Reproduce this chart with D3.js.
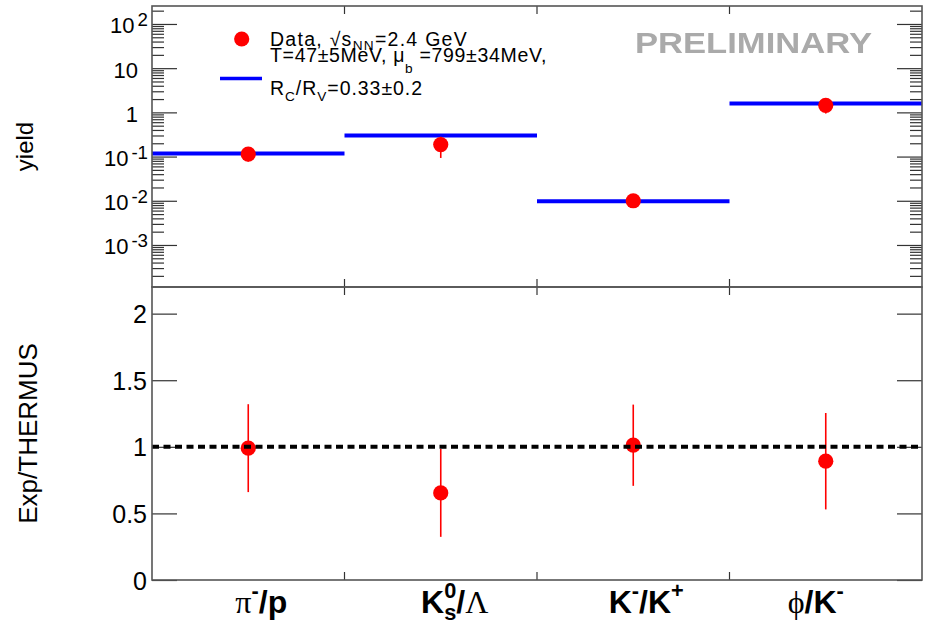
<!DOCTYPE html>
<html><head><meta charset="utf-8">
<script src="https://cdn.jsdelivr.net/npm/d3@7"></script>
<style>body{margin:0;background:#fff}svg text{white-space:pre}</style>
</head><body>
<svg id="c" width="926" height="625"></svg>
<script>
// Particle ratios (ROOT-style markup: #greek, ^{sup}, _{sub})
const categories = ["#pi^{-}/p", "K^{0}_{s}/#Lambda", "K^{-}/K^{+}", "#phi/K^{-}"];
// Measured yield ratios and uncertainties
const dataYield = [0.114, 0.187, 0.0100, 1.44];
const dataYieldErr = [0.037, 0.094, 0.003, 0.50];
// THERMUS fit
const thermusYield = [0.117, 0.30, 0.0098, 1.58];
// Experiment / THERMUS
const ratio = [0.99, 0.654, 1.012, 0.892];
const ratioErr = [0.33, 0.33, 0.305, 0.362];
// Axis ticks
const yieldTicks = [1e-3, 1e-2, 1e-1, 1, 10, 100];
const yieldTickLabels = ["10^{-3}", "10^{-2}", "10^{-1}", "1", "10", "10^{2}"];
const ratioTicks = [0, 0.5, 1, 1.5, 2];
const ratioTickLabels = ["0", "0.5", "1", "1.5", "2"];
const legendData = "Data, √s_{NN}=2.4 GeV";
const legendModel = ["T=47±5MeV, #mu_{b} =799±34MeV,", "R_{C}/R_{V}=0.33±0.2"];

const greek = {pi: "π", Lambda: "Λ", phi: "ϕ", mu: "μ"};
const SANS = "'Liberation Sans', Arial, Helvetica, sans-serif";
const SERIF = "'Liberation Serif', 'DejaVu Serif', serif";

function parseRich(str) {
  const re = /#([A-Za-z]+)|\^\{([^}]*)\}|_\{([^}]*)\}|([^#^_]+)/g;
  const out = []; let m;
  while ((m = re.exec(str))) {
    if (m[1]) out.push({t: greek[m[1]], greek: true, mode: "n"});
    else if (m[2] !== undefined) out.push({t: m[2], mode: "sup"});
    else if (m[3] !== undefined) out.push({t: m[3], mode: "sub"});
    else out.push({t: m[4], mode: "n"});
  }
  return out;
}

const svg = d3.select("#c");
const measurer = svg.append("text").attr("visibility", "hidden");
function measure(str, size, family, weight) {
  measurer.attr("font-size", size).attr("font-family", family).attr("font-weight", weight).text(str);
  return measurer.node().getComputedTextLength();
}

// Appends one line of rich text as tspans of text element t, starting at (x, y).
// A subscript following a superscript is stacked under it. If o.length is
// given, letter spacing stretches the line to that width.
function richLine(t, str, x, y, o) {
  const toks = parseRich(str).map(tok => {
    const small = tok.mode !== "n";
    return Object.assign(tok, {
      size: small ? o.size * o.scriptScale : o.size * (tok.greek ? (o.greekScale || 1) : 1),
      fam: tok.greek ? (o.greekFamily || o.family) : o.family,
      wgt: tok.greek ? "normal" : (o.weight || "normal")
    });
  });
  toks.forEach(tok => { tok.w = measure(tok.t, tok.size, tok.fam, tok.wgt); });
  let natural = 0, chars = 0;
  toks.forEach((tok, i) => {
    const stacked = tok.mode === "sub" && i > 0 && toks[i - 1].mode === "sup";
    natural += stacked ? Math.max(0, tok.w - toks[i - 1].w) : tok.w;
    if (tok.mode === "sup" && o.supGap) natural += o.supGap;
    chars += tok.t.length;
  });
  const ls = o.length ? (o.length - natural) / chars : 0;
  let level = 0;
  toks.forEach((tok, i) => {
    const target = tok.mode === "sup" ? -o.size * o.supRise
      : tok.mode === "sub" ? o.size * o.subDrop : 0;
    const s = t.append("tspan").attr("font-size", tok.size).attr("font-family", tok.fam)
      .attr("font-weight", tok.wgt).text(tok.t);
    if (i === 0) s.attr("x", x).attr("y", y + target);
    else s.attr("dy", target - level);
    if (ls) s.attr("letter-spacing", ls);
    const prev = toks[i - 1];
    if (tok.mode === "sub" && prev && prev.mode === "sup") s.attr("dx", -(prev.w + ls * prev.t.length));
    else if (tok.mode === "sup" && o.supGap) s.attr("dx", o.supGap);
    level = target;
  });
  return t;
}
function richText(parent, str, x, y, anchor, o) {
  const t = parent.append("text")
    .attr("font-family", o.family).attr("font-size", o.size)
    .attr("font-weight", o.weight || "normal").attr("fill", o.fill || "#000")
    .attr("text-anchor", anchor);
  return richLine(t, str, x, y, o);
}

const M = {left: 152, right: 922, top: 6, mid: 287, bottom: 580};

const x = d3.scaleBand().domain(categories).range([M.left, M.right]).padding(0);
const yTop = d3.scaleLog().domain([1.12e-4, 255]).range([M.mid, M.top]);
const yBot = d3.scaleLinear().domain([0, 2.2]).range([M.bottom, M.mid]);

const minorTicks = [];
for (let e = -4; e <= 2; e++) for (let k = 2; k <= 9; k++) {
  const v = k * Math.pow(10, e);
  if (v > yTop.domain()[0] && v < yTop.domain()[1]) minorTicks.push(v);
}

// --- ticks ---
function tickAxis(axis, tx, size, values, scale) {
  svg.append("g").attr("transform", `translate(${tx},0)`).attr("color", "#333")
    .call(axis(scale).tickValues(values).tickSize(size).tickFormat(() => ""))
    .call(g => g.select(".domain").remove())
    .call(g => g.selectAll("line").attr("stroke-width", 1.2));
}
tickAxis(d3.axisLeft, M.left, -12, minorTicks, yTop);
tickAxis(d3.axisLeft, M.left, -25, yieldTicks, yTop);
tickAxis(d3.axisRight, M.right, -12, minorTicks, yTop);
tickAxis(d3.axisRight, M.right, -25, yieldTicks, yTop);
tickAxis(d3.axisLeft, M.left, -25, ratioTicks, yBot);
tickAxis(d3.axisRight, M.right, -25, ratioTicks, yBot);

// category boundary ticks on the horizontal axes
const bounds = categories.slice(0, -1).map(c => x(c) + x.bandwidth());
const bt = svg.append("g").attr("stroke", "#333").attr("stroke-width", 1.2);
bounds.forEach(b => {
  bt.append("line").attr("x1", b).attr("x2", b).attr("y1", M.top).attr("y2", M.top + 8);
  bt.append("line").attr("x1", b).attr("x2", b).attr("y1", M.mid - 8).attr("y2", M.mid + 8);
  bt.append("line").attr("x1", b).attr("x2", b).attr("y1", M.bottom - 8).attr("y2", M.bottom);
});

// --- upper panel: THERMUS lines and data ---
const gYield = svg.append("g");
gYield.selectAll("line.model").data(thermusYield).join("line").attr("class", "model")
  .attr("x1", (d, i) => x(categories[i]))
  .attr("x2", (d, i) => x(categories[i]) + x.bandwidth())
  .attr("y1", d => yTop(d)).attr("y2", d => yTop(d))
  .attr("stroke", "#0000ff").attr("stroke-width", 4);
gYield.selectAll("line.err").data(dataYield).join("line").attr("class", "err")
  .attr("x1", (d, i) => x(categories[i]) + x.bandwidth() / 2)
  .attr("x2", (d, i) => x(categories[i]) + x.bandwidth() / 2)
  .attr("y1", (d, i) => yTop(d - dataYieldErr[i]))
  .attr("y2", (d, i) => yTop(d + dataYieldErr[i]))
  .attr("stroke", "#ff0000").attr("stroke-width", 1.6);
gYield.selectAll("circle").data(dataYield).join("circle")
  .attr("cx", (d, i) => x(categories[i]) + x.bandwidth() / 2)
  .attr("cy", d => yTop(d)).attr("r", 7.6).attr("fill", "#ff0000");

// --- lower panel: ratio ---
const gRatio = svg.append("g");
gRatio.selectAll("line.err").data(ratio).join("line").attr("class", "err")
  .attr("x1", (d, i) => x(categories[i]) + x.bandwidth() / 2)
  .attr("x2", (d, i) => x(categories[i]) + x.bandwidth() / 2)
  .attr("y1", (d, i) => yBot(d - ratioErr[i]))
  .attr("y2", (d, i) => yBot(d + ratioErr[i]))
  .attr("stroke", "#ff0000").attr("stroke-width", 1.6);
gRatio.selectAll("circle").data(ratio).join("circle")
  .attr("cx", (d, i) => x(categories[i]) + x.bandwidth() / 2)
  .attr("cy", d => yBot(d)).attr("r", 7.6).attr("fill", "#ff0000");
gRatio.append("line").attr("x1", M.left).attr("x2", M.right)
  .attr("y1", yBot(1)).attr("y2", yBot(1))
  .attr("stroke", "#000").attr("stroke-width", 4).attr("stroke-dasharray", "7 4.5");

// --- frames ---
svg.append("rect").attr("x", M.left).attr("y", M.top)
  .attr("width", M.right - M.left).attr("height", M.mid - M.top)
  .attr("fill", "none").attr("stroke", "#555").attr("stroke-width", 1.6);
svg.append("rect").attr("x", M.left).attr("y", M.mid)
  .attr("width", M.right - M.left).attr("height", M.bottom - M.mid)
  .attr("fill", "none").attr("stroke", "#555").attr("stroke-width", 1.6);

// --- tick labels ---
const tickFont = {size: 22, family: SANS, scriptScale: 0.85, supRise: 0.32, subDrop: 0.3, supGap: 3};
yieldTicks.forEach((v, i) => {
  const lab = yieldTickLabels[i];
  const sup = lab.includes("^");
  richText(svg, lab, sup ? 148 : 138, yTop(v) + 9.5, "end", tickFont);
});
const ratioFont = {size: 25, family: SANS, scriptScale: 0.7, supRise: 0.42, subDrop: 0.3};
ratioTicks.forEach((v, i) => {
  richText(svg, ratioTickLabels[i], 147, yBot(v) + 9.5, "end", ratioFont);
});

// x category labels (small horizontal nudges keep each label where ROOT puts it)
const xFont = {size: 32, family: SANS, weight: "bold", greekFamily: SERIF, greekScale: 1.0,
  scriptScale: 0.68, supRise: 0.45, subDrop: 0.22};
const labelNudge = [13, 14, 13, -10];
categories.forEach((c, i) => {
  richText(svg, c, x(c) + x.bandwidth() / 2 + labelNudge[i], 612.5, "middle", xFont);
});

// axis titles
svg.append("text").attr("transform", `translate(33,${(M.top + M.mid) / 2}) rotate(-90)`)
  .attr("text-anchor", "middle").attr("font-family", SANS).attr("font-size", 24).text("yield");
svg.append("text").attr("transform", `translate(37,${(M.mid + M.bottom) / 2}) rotate(-90)`)
  .attr("text-anchor", "middle").attr("font-family", SANS).attr("font-size", 26).text("Exp/THERMUS");

// PRELIMINARY stamp
const defs = svg.append("defs");
defs.append("filter").attr("id", "soft").append("feGaussianBlur").attr("stdDeviation", 0.6);
svg.append("text").attr("x", 635).attr("y", 53).attr("font-family", SANS)
  .attr("font-weight", "bold").attr("font-size", 30).attr("fill", "#aaaaaa")
  .attr("textLength", 237).attr("lengthAdjust", "spacingAndGlyphs")
  .attr("filter", "url(#soft)").text("PRELIMINARY");

// legend: markers plus one text block holding the three lines
const legFont = {size: 19.5, family: SANS, scriptScale: 0.7, supRise: 0.42, subDrop: 0.22};
svg.append("circle").attr("cx", 241.7).attr("cy", 39).attr("r", 7.6).attr("fill", "#ff0000");
svg.append("line").attr("x1", 220).attr("x2", 262).attr("y1", 78.5).attr("y2", 78.5)
  .attr("stroke", "#0000ff").attr("stroke-width", 3.5);
const legText = svg.append("text").attr("font-family", SANS).attr("font-size", legFont.size).attr("fill", "#000");
richLine(legText, legendData, 270, 45.7, Object.assign({}, legFont, {length: 198}));
richLine(legText, legendModel[0], 270, 61.7, Object.assign({}, legFont, {subDrop: 0.6, length: 277}));
richLine(legText, legendModel[1], 270, 95, Object.assign({}, legFont, {subDrop: 0.32, length: 153}));
</script>
</body></html>
